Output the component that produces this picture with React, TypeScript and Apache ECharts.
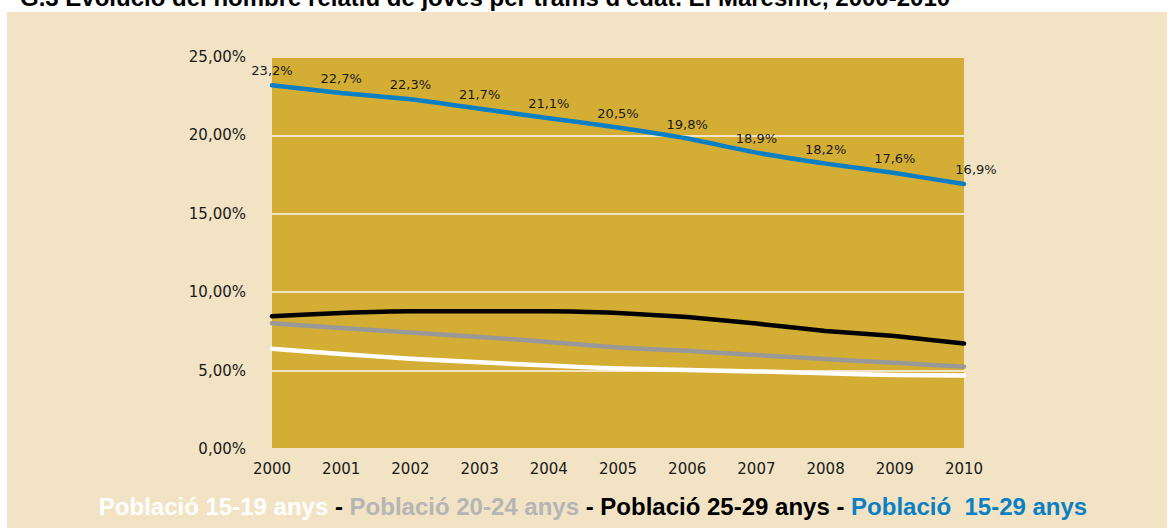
import React, { useEffect, useRef } from "react";
import * as echarts from "echarts";

const years = ["2000", "2001", "2002", "2003", "2004", "2005", "2006", "2007", "2008", "2009", "2010"];
const pob1519 = [6.4, 6.06, 5.76, 5.53, 5.32, 5.13, 5.04, 4.95, 4.83, 4.72, 4.68];
const pob2024 = [8.02, 7.72, 7.43, 7.15, 6.83, 6.47, 6.26, 5.99, 5.74, 5.5, 5.25];
const pob2529 = [8.46, 8.67, 8.78, 8.78, 8.78, 8.67, 8.42, 8.0, 7.53, 7.2, 6.73];
const pob1529 = [23.2, 22.7, 22.3, 21.7, 21.1, 20.5, 19.8, 18.9, 18.2, 17.6, 16.9];
const yTicks = { min: 0, max: 25, interval: 5 };

const titleText = "G.3 Evolució del nombre relatiu de joves per trams d'edat. El Maresme, 2000-2010";

export default function App() {
  const ref = useRef<HTMLDivElement>(null);
  useEffect(() => {
    document.body.style.margin = "0";
    const chart = echarts.init(ref.current!, null, { renderer: "svg" });
    const font = "DejaVu Sans, Verdana, sans-serif";
    const bold = "bold 24px 'Liberation Sans', Arial, sans-serif";
    const lastIdx = pob1529.length - 1;
    const blueData = pob1529.map((v, i) =>
      i === lastIdx ? { value: v, label: { offset: [12, 0] } } : v
    );
    const mk = (name: string, data: any[], color: string, z: number) => ({
      name,
      type: "line",
      data,
      symbol: "none",
      smooth: 0.15,
      z,
      lineStyle: { color, width: 4.5, cap: "round", join: "round" },
      itemStyle: { color },
    });
    const blue = mk("Població 15-29 anys", blueData, "#0a7fc4", 5) as any;
    blue.symbol = "circle";
    blue.symbolSize = 0;
    blue.showSymbol = true;
    blue.label = {
      show: true,
      position: "top",
      distance: 8,
      color: "#1a1a1a",
      fontFamily: font,
      fontSize: 13,
      formatter: (p: any) => p.value.toFixed(1).replace(".", ",") + "%",
    };
    chart.setOption({
      animation: false,
      backgroundColor: "#ffffff",
      graphic: [
        {
          type: "rect",
          z: -10,
          silent: true,
          shape: { x: 7, y: 12, width: 1170, height: 516 },
          style: { fill: "#f1e3c4" },
        },
        {
          type: "text",
          x: 20,
          y: 9,
          style: {
            text: titleText,
            fill: "#000",
            font: bold,
            verticalAlign: "bottom",
          },
        },
        {
          type: "text",
          x: 593,
          y: 506,
          style: {
            text:
              "{w|Població 15-19 anys}{k| - }{g|Població 20-24 anys}{k| - Població 25-29 anys - }{b|Població  15-29 anys}",
            align: "center",
            verticalAlign: "middle",
            font: bold,
            rich: {
              w: { fill: "#ffffff", font: bold },
              g: { fill: "#b5b5b5", font: bold },
              k: { fill: "#000000", font: bold },
              b: { fill: "#0a7fc4", font: bold },
            },
          },
        },
      ],
      grid: {
        left: 272,
        right: 203,
        top: 57,
        bottom: 81,
        show: true,
        backgroundColor: "#d4ad35",
        borderWidth: 0,
        containLabel: false,
      },
      xAxis: {
        type: "category",
        data: years,
        boundaryGap: false,
        axisLine: { show: false },
        axisTick: { show: false },
        splitLine: { show: false },
        axisLabel: { color: "#1a1a1a", fontFamily: font, fontSize: 15, margin: 12 },
      },
      yAxis: {
        type: "value",
        min: yTicks.min,
        max: yTicks.max,
        interval: yTicks.interval,
        axisLine: { show: false },
        axisTick: { show: false },
        splitLine: { show: true, lineStyle: { color: "#f1e3c4", width: 2 } },
        axisLabel: {
          color: "#1a1a1a",
          fontFamily: font,
          fontSize: 15,
          margin: 26,
          formatter: (v: number) => v.toFixed(2).replace(".", ",") + "%",
        },
      },
      series: [
        mk("Població 15-19 anys", pob1519, "#ffffff", 2),
        mk("Població 20-24 anys", pob2024, "#999999", 3),
        mk("Població 25-29 anys", pob2529, "#000000", 4),
        blue,
      ],
    });
    return () => chart.dispose();
  }, []);
  return <div ref={ref} style={{ width: 1167, height: 530, position: "absolute", left: 0, top: 0 }} />;
}
